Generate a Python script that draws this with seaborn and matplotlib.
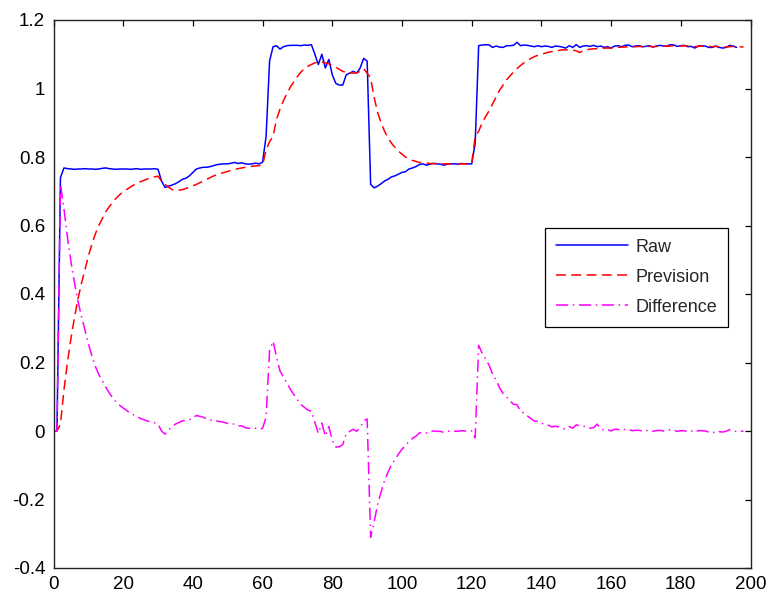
import matplotlib
matplotlib.use("Agg")
import matplotlib.pyplot as plt
import seaborn as sns
import pandas as pd

x_values = list(range(0, 199))

raw = [
    0, 0.0, 0.74, 0.768, 0.766, 0.765, 0.764, 0.765, 0.765, 0.766,
    0.765, 0.765, 0.764, 0.765, 0.767, 0.768, 0.766, 0.765, 0.764, 0.765,
    0.765, 0.765, 0.764, 0.765, 0.766, 0.764, 0.765, 0.765, 0.765, 0.766,
    0.764, 0.73, 0.711, 0.715, 0.718, 0.722, 0.728, 0.735, 0.738, 0.745,
    0.755, 0.765, 0.768, 0.77, 0.77, 0.772, 0.775, 0.778, 0.779, 0.78,
    0.78, 0.782, 0.784, 0.781, 0.783, 0.78, 0.779, 0.78, 0.782, 0.78,
    0.785, 0.86, 1.08, 1.122, 1.125, 1.115, 1.122, 1.125, 1.126, 1.126,
    1.126, 1.125, 1.127, 1.126, 1.128, 1.10, 1.07, 1.10, 1.06, 1.085,
    1.04, 1.015, 1.01, 1.01, 1.04, 1.045, 1.05, 1.045, 1.06, 1.088,
    1.08, 0.72, 0.71, 0.715, 0.722, 0.73, 0.735, 0.742, 0.745, 0.75,
    0.755, 0.757, 0.765, 0.768, 0.772, 0.778, 0.78, 0.776, 0.779, 0.781,
    0.78, 0.779, 0.776, 0.779, 0.78, 0.78, 0.779, 0.781, 0.78, 0.78,
    0.78, 0.84, 1.125, 1.127, 1.128, 1.127, 1.12, 1.124, 1.121, 1.12,
    1.125, 1.125, 1.126, 1.135, 1.125, 1.127, 1.126, 1.124, 1.122, 1.125,
    1.122, 1.124, 1.123, 1.12, 1.124, 1.123, 1.121, 1.118, 1.125, 1.12,
    1.128, 1.12, 1.124, 1.125, 1.123, 1.126, 1.122, 1.124, 1.12, 1.122,
    1.118, 1.124, 1.125, 1.122, 1.126, 1.127, 1.122, 1.124, 1.125, 1.122,
    1.123, 1.125, 1.121, 1.124, 1.126, 1.124, 1.124, 1.128, 1.127, 1.123,
    1.125, 1.126, 1.122, 1.123, 1.118, 1.124, 1.125, 1.124, 1.12, 1.12,
    1.124, 1.12, 1.118, 1.12, 1.126, 1.124, 1.12,
]

prevision = [
    0, 0, 0.02, 0.12, 0.2, 0.27, 0.33, 0.385, 0.43, 0.47,
    0.51, 0.545, 0.575, 0.6, 0.62, 0.64, 0.655, 0.668, 0.68, 0.69,
    0.698, 0.705, 0.712, 0.718, 0.723, 0.728, 0.732, 0.736, 0.739, 0.742,
    0.744, 0.73, 0.72, 0.712, 0.705, 0.702, 0.703, 0.705, 0.708, 0.712,
    0.716, 0.72, 0.725, 0.73, 0.735, 0.74, 0.745, 0.749, 0.752, 0.755,
    0.758, 0.761, 0.764, 0.766, 0.768, 0.77, 0.771, 0.773, 0.774, 0.775,
    0.777, 0.82, 0.845, 0.86, 0.91, 0.94, 0.965, 0.985, 1.005, 1.02,
    1.035, 1.048, 1.058, 1.065, 1.07, 1.075, 1.077, 1.077, 1.075, 1.072,
    1.068, 1.062, 1.056, 1.05, 1.047, 1.046, 1.045, 1.046, 1.05, 1.058,
    1.045, 1.03, 0.975, 0.93, 0.9, 0.875, 0.855, 0.84, 0.828, 0.817,
    0.808, 0.8, 0.795, 0.79, 0.787, 0.784, 0.783, 0.782, 0.781, 0.781,
    0.781, 0.78, 0.78, 0.78, 0.78, 0.78, 0.78, 0.78, 0.78, 0.78,
    0.78, 0.86, 0.875, 0.9, 0.918, 0.935, 0.955, 0.975, 0.995, 1.01,
    1.025, 1.037, 1.048, 1.058, 1.067, 1.075, 1.082, 1.088, 1.093, 1.097,
    1.1, 1.103, 1.106, 1.108, 1.11, 1.111, 1.113, 1.113, 1.112, 1.112,
    1.11, 1.105, 1.11, 1.113, 1.115, 1.116, 1.116, 1.117, 1.118, 1.118,
    1.118, 1.119, 1.12, 1.121, 1.121, 1.122, 1.121, 1.122, 1.123, 1.122,
    1.122, 1.123, 1.122, 1.123, 1.124, 1.124, 1.123, 1.124, 1.125, 1.124,
    1.124, 1.125, 1.124, 1.123, 1.122, 1.123, 1.124, 1.124, 1.123, 1.122,
    1.123, 1.122, 1.121, 1.121, 1.122, 1.123, 1.122, 1.122, 1.121,
]

difference = [
    0, 0.0, 0.72, 0.648, 0.566, 0.495, 0.434, 0.38, 0.335, 0.296,
    0.255, 0.22, 0.189, 0.165, 0.147, 0.128, 0.111, 0.097, 0.084, 0.075,
    0.067, 0.06, 0.052, 0.047, 0.043, 0.036, 0.033, 0.029, 0.026, 0.024,
    0.02, 0.0, -0.009, 0.003, 0.013, 0.02, 0.025, 0.03, 0.03, 0.033,
    0.039, 0.045, 0.043, 0.04, 0.035, 0.032, 0.03, 0.029, 0.027, 0.025,
    0.022, 0.021, 0.02, 0.015, 0.015, 0.01, 0.008, 0.007, 0.008, 0.005,
    0.008, 0.04, 0.235, 0.262, 0.215, 0.175, 0.157, 0.14, 0.121, 0.106,
    0.091, 0.077, 0.069, 0.061, 0.058, 0.025, -0.007, 0.023, -0.015, 0.013,
    -0.028, -0.047, -0.046, -0.04, -0.007, -0.001, 0.005, -0.001, 0.01, 0.03,
    0.035, -0.31, -0.265, -0.215, -0.178, -0.145, -0.12, -0.098, -0.083, -0.067,
    -0.053, -0.043, -0.03, -0.022, -0.015, -0.006, -0.003, -0.006, -0.002, 0.0,
    -0.001, -0.001, -0.004, -0.001, 0.0, 0.0, -0.001, 0.001, 0.0, 0.0,
    0.0, -0.02, 0.25, 0.227, 0.21, 0.192, 0.165, 0.149, 0.126, 0.11,
    0.1, 0.088, 0.078, 0.077, 0.058, 0.052, 0.044, 0.036, 0.029, 0.028,
    0.022, 0.021, 0.017, 0.012, 0.014, 0.012, 0.008, 0.005, 0.013, 0.008,
    0.018, 0.015, 0.014, 0.012, 0.008, 0.01, 0.02, 0.007, 0.002, 0.004,
    0.0, 0.005, 0.005, 0.001, 0.005, 0.005, 0.001, 0.002, 0.002, 0.0,
    0.001, 0.002, -0.001, 0.001, 0.002, 0.0, 0.001, 0.004, 0.002, -0.001,
    0.001, 0.001, -0.002, 0.0, -0.004, 0.001, 0.001, 0.0, -0.003, -0.002,
    -0.006, -0.002, -0.003, -0.001, 0.004, 0.001, -0.002, 0.0, -0.001,
]

x_ticks = [0, 20, 40, 60, 80, 100, 120, 140, 160, 180, 200]
y_ticks = [-0.4, -0.2, 0, 0.2, 0.4, 0.6, 0.8, 1, 1.2]
y_tick_labels = ["-0.4", "-0.2", "0", "0.2", "0.4", "0.6", "0.8", "1", "1.2"]

sns.set_style("white")
plt.rcParams["font.family"] = ["Liberation Sans", "DejaVu Sans"]

W, H = 770, 599
fig = plt.figure(figsize=(W / 100, H / 100), dpi=100)
left, right, top, bottom = 53.5, 750.5, 20.0, 568.0
ax = fig.add_axes([left / W, 1 - bottom / H, (right - left) / W, (bottom - top) / H])

df_raw = pd.DataFrame({"x": x_values[:len(raw)], "y": raw})
df_prev = pd.DataFrame({"x": x_values[:len(prevision)], "y": prevision})
df_diff = pd.DataFrame({"x": x_values[:len(difference)], "y": difference})

sns.lineplot(data=df_raw, x="x", y="y", ax=ax, color=(0, 0, 1), lw=1.1,
             estimator=None, errorbar=None, sort=False, label="Raw")
sns.lineplot(data=df_prev, x="x", y="y", ax=ax, color=(1, 0, 0), lw=1.1,
             linestyle=(0, (6.5, 3.5)), estimator=None, errorbar=None,
             sort=False, label="Prevision")
sns.lineplot(data=df_diff, x="x", y="y", ax=ax, color=(1, 0, 1), lw=1.1,
             linestyle=(0, (8, 3, 1, 3)), estimator=None, errorbar=None,
             sort=False, label="Difference")

ax.set_xlim(0, 200)
ax.set_ylim(-0.4, 1.2)
ax.set_xticks(x_ticks)
ax.set_xticklabels([str(t) for t in x_ticks])
ax.set_yticks(y_ticks)
ax.set_yticklabels(y_tick_labels)
ax.set_xlabel("")
ax.set_ylabel("")
ax.tick_params(direction="in", length=4.5, width=0.9, top=True, right=True,
               labelsize=13.5, colors="black")
ax.tick_params(axis="x", pad=6)
ax.tick_params(axis="y", pad=6)
for sp in ax.spines.values():
    sp.set_color("#222222")
    sp.set_linewidth(1.0)
    sp.set_visible(True)

leg = ax.legend(loc="center left", bbox_to_anchor=(0.7057, 0.5305),
                fontsize=13, handlelength=4.0, handletextpad=0.4,
                frameon=True, fancybox=False, borderpad=0.6,
                labelspacing=0.72, borderaxespad=0)
leg.get_frame().set_edgecolor("black")
leg.get_frame().set_linewidth(0.9)
leg.get_frame().set_alpha(1)

fig.savefig("out.png", dpi=100)
